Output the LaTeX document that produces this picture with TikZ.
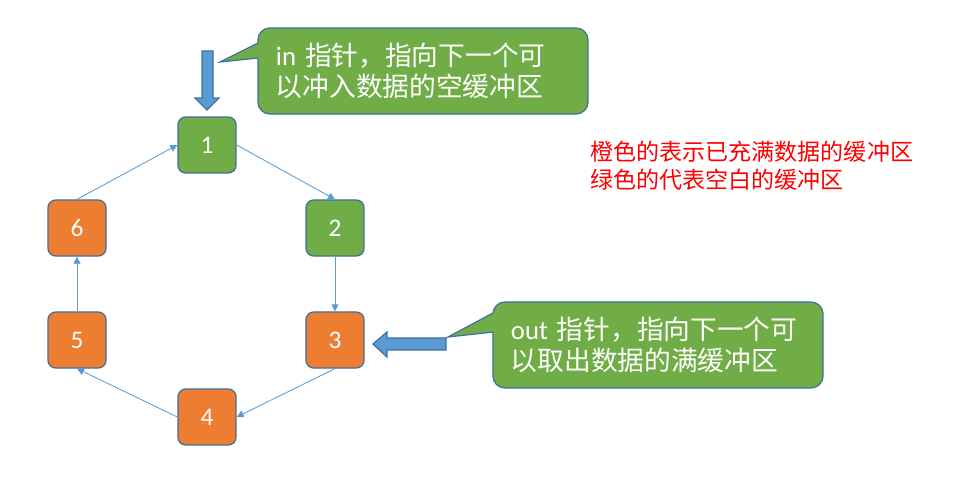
\documentclass[tikz,border=0pt]{standalone}
\usepackage{fontspec}
\setmainfont{Carlito}
\newfontfamily\cjk{Noto Sans CJK SC}
\usetikzlibrary{arrows.meta}

\definecolor{bufgreen}{HTML}{70AD47}
\definecolor{buforange}{HTML}{ED7D31}
\definecolor{edgeblue}{HTML}{41719C}
\definecolor{linkblue}{HTML}{5B9BD5}
\definecolor{notered}{HTML}{FF0000}

\begin{document}
\begin{tikzpicture}[x=0.025cm, y=-0.025cm,
    buf/.style={draw=edgeblue, line width=0.9pt, rounded corners=5.5pt, minimum width=1.45cm, minimum height=1.4cm, text=white, font=\fontsize{18}{20}\selectfont},
    fullbuf/.style={buf, fill=buforange},
    freebuf/.style={buf, fill=bufgreen},
    link/.style={-{Triangle[length=5pt,width=5pt]}, draw=linkblue, line width=0.6pt},
    callbox/.style={draw=edgeblue, line width=0.9pt, fill=bufgreen, rounded corners=8.5pt, text=white, text width=7.35cm, inner xsep=0.45cm, align=left, minimum height=2.15cm, font=\fontsize{19}{22}\selectfont},
    fatarrow/.style={draw=edgeblue, line width=0.9pt, fill=linkblue, line join=miter}
  ]
  \useasboundingbox (0,0) rectangle (956,493);

  % ring of buffers
  \node[freebuf] (n1) at (207,145) {1};
  \node[freebuf] (n2) at (335,228) {2};
  \node[fullbuf] (n3) at (335,340) {3};
  \node[fullbuf] (n4) at (207,417) {4};
  \node[fullbuf] (n5) at (77,340) {5};
  \node[fullbuf] (n6) at (77,228) {6};

  \draw[link] (n1.east) -- (n2.north);
  \draw[link] (n2.south) -- (n3.north);
  \draw[link] (n3.south) -- (n4.east);
  \draw[link] (n4.west) -- (n5.south);
  \draw[link] (n5.north) -- (n6.south);
  \draw[link] (n6.north) -- (n1.west);

  % in pointer
  \draw[fatarrow] (202,51) -- (213,51) -- (213,98) -- (219,98) -- (207,110) -- (195,98) -- (202,98) -- cycle;
  \node[callbox] (incall) at (423,71) {in {\cjk 指针，指向下一个可}\\{\cjk 以冲入数据的空缓冲区}};
  \fill[bufgreen] (220,62) -- (258,43) -- (261,43) -- (261,58) -- (258,58) -- cycle;
  \draw[edgeblue, line width=0.9pt] (258,43) -- (220,62) -- (258,58);

  % out pointer
  \draw[fatarrow] (446,338) -- (387,338) -- (387,332) -- (373,344) -- (387,357) -- (387,350) -- (446,350) -- cycle;
  \node[callbox] (outcall) at (658,345) {out {\cjk 指针，指向下一个可}\\{\cjk 以取出数据的满缓冲区}};
  \fill[bufgreen] (448,337) -- (493,313) -- (496,313) -- (496,332) -- (493,332) -- cycle;
  \draw[edgeblue, line width=0.9pt] (493,313) -- (448,337) -- (493,332);

  % legend
  \node[anchor=west, inner sep=0pt, align=left, text=notered, font=\cjk\fontsize{16.4}{20}\selectfont] (legend) at (590,166) {橙色的表示已充满数据的缓冲区\\绿色的代表空白的缓冲区};
\end{tikzpicture}
\end{document}
